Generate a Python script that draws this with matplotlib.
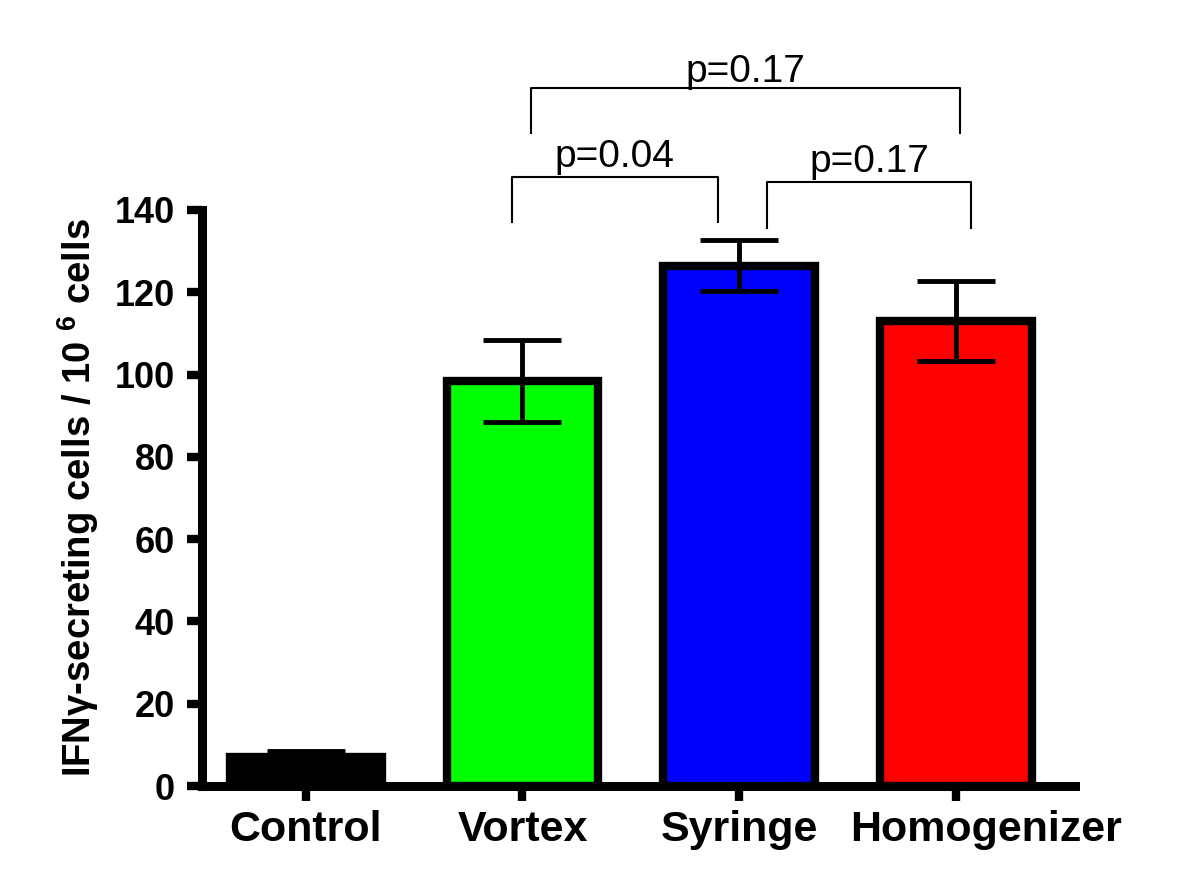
import matplotlib
matplotlib.use('Agg')
import matplotlib.pyplot as plt
from matplotlib.transforms import ScaledTranslation

plt.rcParams['font.family'] = ['Liberation Sans', 'DejaVu Sans']
plt.rcParams['mathtext.fontset'] = 'custom'
plt.rcParams['mathtext.rm'] = 'Liberation Sans'
plt.rcParams['mathtext.bf'] = 'Liberation Sans:bold'

groups = ['Control', 'Vortex', 'Syringe', 'Homogenizer']
means = [7, 98.5, 126.5, 113]
errors = [1.6, 10, 6.2, 9.8]
colors = ['black', '#00ff00', '#0000ff', '#ff0000']

# comparisons: (left x, right x, bracket top, left leg bottom, right leg bottom, label)
comparisons = [
    (0.95, 1.90, 148.0, 137.0, 137.0, 'p=0.04'),
    (2.13, 3.07, 146.8, 135.6, 135.6, 'p=0.17'),
    (1.04, 3.02, 169.7, 158.7, 158.7, 'p=0.17'),
]
label_gap = [2.4, 2.4, 1.5]

fig = plt.figure(figsize=(12, 8.92), dpi=100)
ax = fig.add_axes([0.168, 0.1188, 0.896 - 0.168, 0.7646 - 0.1188])

x = list(range(len(groups)))
ax.bar(x, means, width=0.7, color=colors, edgecolor='black', linewidth=6, zorder=2)
ax.errorbar(x, means, yerr=errors, fmt='none', ecolor='black', elinewidth=3.5,
            capsize=28, capthick=3.5, zorder=3)

for (x1, x2, top, l1, l2, label), gap in zip(comparisons, label_gap):
    ax.plot([x1, x1, x2, x2], [l1, top, top, l2], color='black', lw=1.5,
            clip_on=False)
    ax.text((x1 + x2) / 2, top + gap, label, ha='center', va='baseline',
            fontsize=28)

ax.set_xlim(-0.48, 3.55)
ax.set_ylim(0, 140)
ax.set_yticks(range(0, 141, 20))
ax.set_xticks(x)
ax.set_xticklabels(groups, fontsize=31, fontweight='bold')
for lab in ax.get_yticklabels():
    lab.set_fontsize(26)
    lab.set_fontweight('bold')

for side in ['top', 'right']:
    ax.spines[side].set_visible(False)
for side in ['left', 'bottom']:
    ax.spines[side].set_linewidth(6.5)
ax.tick_params(axis='both', width=6, length=11)
ax.tick_params(axis='y', pad=8)
ax.tick_params(axis='x', pad=6)

ax.set_ylabel('IFNγ-secreting cells / 10 $^{\\mathbf{6}}$ cells', fontsize=27.5,
              fontweight='bold', labelpad=10)

# homogenizer label sits a little right of its tick in the original
fig.canvas.draw()
hl = ax.xaxis.get_major_ticks()[3].label1
hl.set_transform(hl.get_transform() + ScaledTranslation(0.3, 0, fig.dpi_scale_trans))

fig.savefig('out.png', dpi=100)
